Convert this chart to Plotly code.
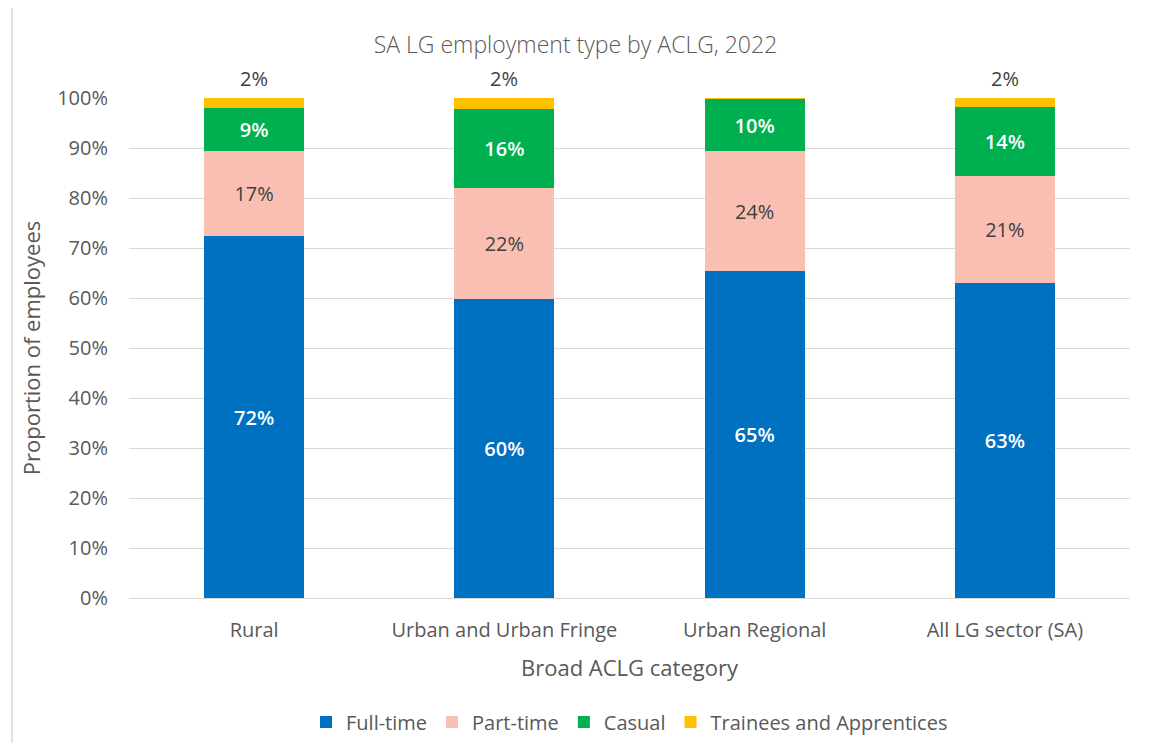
import plotly.graph_objects as go

categories = ["Rural", "Urban and Urban Fringe", "Urban Regional", "All LG sector (SA)"]
full_time = [0.724, 0.598, 0.654, 0.630]
part_time = [0.170, 0.223, 0.240, 0.214]
casual = [0.087, 0.157, 0.104, 0.138]
trainees = [0.019, 0.022, 0.002, 0.018]
trainee_labels = ["2%", "2%", "", "2%"]

colors = {"Full-time": "#0070C0", "Part-time": "#F8BFB2", "Casual": "#00B050",
          "Trainees and Apprentices": "#FFC000"}
FONT = "Open Sans"
GREY = "#595959"

fig = go.Figure()


def pct(vals):
    return [f"{round(v * 100):.0f}%" for v in vals]


fig.add_trace(go.Bar(name="Full-time", x=categories, y=full_time, marker_color=colors["Full-time"],
                     text=pct(full_time), textposition="inside", insidetextanchor="middle",
                     textfont=dict(color="white", size=20, family=FONT, weight=600)))
fig.add_trace(go.Bar(name="Part-time", x=categories, y=part_time, marker_color=colors["Part-time"],
                     text=pct(part_time), textposition="inside", insidetextanchor="middle",
                     textfont=dict(color="#404040", size=20, family=FONT)))
fig.add_trace(go.Bar(name="Casual", x=categories, y=casual, marker_color=colors["Casual"],
                     text=pct(casual), textposition="inside", insidetextanchor="middle",
                     textfont=dict(color="white", size=20, family=FONT, weight=600)))
fig.add_trace(go.Bar(name="Trainees and Apprentices", x=categories, y=trainees,
                     marker_color=colors["Trainees and Apprentices"], textposition="none"))

totals = [a + b + c + d for a, b, c, d in zip(full_time, part_time, casual, trainees)]
for cat, tot, lab in zip(categories, totals, trainee_labels):
    if lab:
        fig.add_annotation(x=cat, y=tot, text=lab, showarrow=False, yanchor="bottom", yshift=4,
                           font=dict(color="#404040", size=20, family=FONT))

fig.update_traces(marker_line_width=0, cliponaxis=False)

# outer chart border
fig.add_shape(type="rect", xref="paper", yref="paper",
              x0=(12 - 129) / 1001, x1=(1149 - 129) / 1001,
              y0=(598 - 760) / 500, y1=(598 - 4) / 500,
              line=dict(color="#D9D9D9", width=1.5), layer="below")

W, H = 1135, 735
fig.update_layout(
    barmode="stack",
    bargap=0.6,
    width=W, height=H,
    margin=dict(l=121, r=13, t=90, b=145, autoexpand=False),
    paper_bgcolor="white", plot_bgcolor="white",
    font=dict(family=FONT, color=GREY, size=20),
    title=dict(text="SA LG employment type by ACLG, 2022", x=0.5, xanchor="center",
               y=1 - 37 / H, yanchor="middle", font=dict(size=23, color=GREY, family=FONT, weight=300)),
    yaxis=dict(range=[0, 1], tickformat=".0%", dtick=0.1, showgrid=True, gridcolor="#D9D9D9",
               gridwidth=1, zeroline=False, showline=False, ticks="", ticklabelstandoff=20,
               automargin=False,
               title=dict(text="Proportion of employees", font=dict(size=22, color=GREY), standoff=10),
               tickfont=dict(size=20, color=GREY)),
    xaxis=dict(showline=True, linecolor="#D9D9D9", linewidth=1, ticks="", automargin=False,
               tickfont=dict(size=20, color=GREY), ticklabelstandoff=14,
               title=dict(text="Broad ACLG category", font=dict(size=22, color=GREY), standoff=18)),
    legend=dict(orientation="h", x=0.5, xanchor="center", y=(598 - 722) / 500, yanchor="middle",
                font=dict(size=20, color=GREY), traceorder="normal"),
)

fig.write_html("out.html")
